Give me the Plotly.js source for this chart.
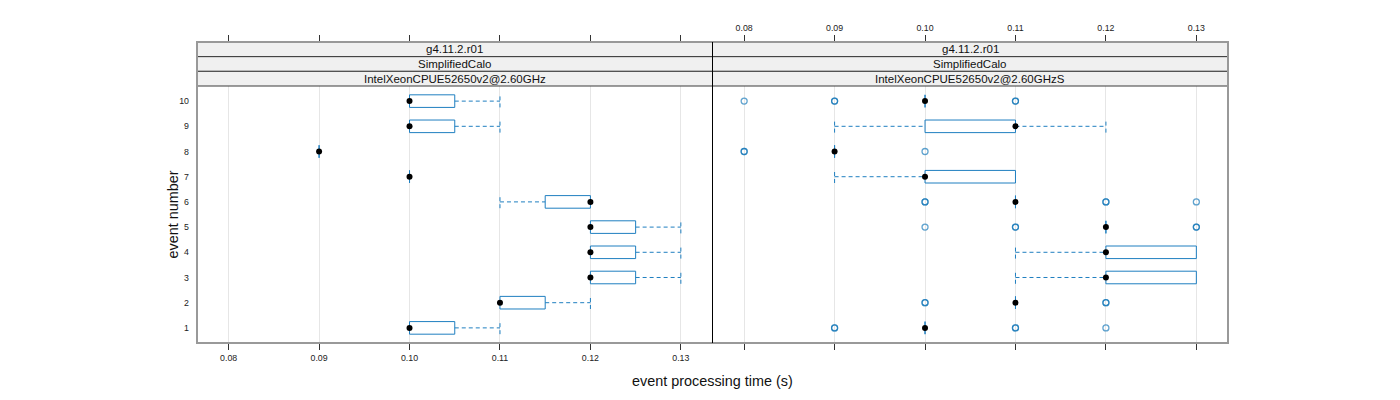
<!DOCTYPE html>
<html>
<head>
<meta charset="utf-8">
<script src="https://cdn.plot.ly/plotly-3.0.1.min.js"></script>
<style>html,body{margin:0;padding:0;background:#fff;}#chart{width:1400px;height:400px;}</style>
</head>
<body>
<div id="chart"></div>
<script>
// ---- data ----
const events = [1, 2, 3, 4, 5, 6, 7, 8, 9, 10];
const xTicks = [0.08, 0.09, 0.10, 0.11, 0.12, 0.13];
const stripRelease = "g4.11.2.r01";
const stripTest = "SimplifiedCalo";
const leftCpu = "IntelXeonCPUE52650v2@2.60GHz";
const rightCpu = "IntelXeonCPUE52650v2@2.60GHzS";

// left panel (per event 1..10)
const leftLo  = [0.10, 0.11, 0.12, 0.12, 0.12, 0.11, 0.10, 0.09, 0.10, 0.10];
const leftQ1  = [0.10, 0.11, 0.12, 0.12, 0.12, 0.115, 0.10, 0.09, 0.10, 0.10];
const leftMed = [0.10, 0.11, 0.12, 0.12, 0.12, 0.12, 0.10, 0.09, 0.10, 0.10];
const leftQ3  = [0.105, 0.115, 0.125, 0.125, 0.125, 0.12, 0.10, 0.09, 0.105, 0.105];
const leftHi  = [0.11, 0.12, 0.13, 0.13, 0.13, 0.12, 0.10, 0.09, 0.11, 0.11];
const leftOut = [[], [], [], [], [], [], [], [], [], []];

// right panel (per event 1..10)
const rightLo  = [0.10, 0.11, 0.11, 0.11, 0.12, 0.11, 0.09, 0.09, 0.09, 0.10];
const rightQ1  = [0.10, 0.11, 0.12, 0.12, 0.12, 0.11, 0.10, 0.09, 0.10, 0.10];
const rightMed = [0.10, 0.11, 0.12, 0.12, 0.12, 0.11, 0.10, 0.09, 0.11, 0.10];
const rightQ3  = [0.10, 0.11, 0.13, 0.13, 0.12, 0.11, 0.11, 0.09, 0.11, 0.10];
const rightHi  = [0.10, 0.11, 0.13, 0.13, 0.12, 0.11, 0.11, 0.09, 0.12, 0.10];
const rightOut = [
  [0.09, 0.09, 0.11, 0.11, 0.12],
  [0.10, 0.10, 0.12, 0.12],
  [],
  [],
  [0.10, 0.11, 0.11, 0.13, 0.13],
  [0.10, 0.10, 0.12, 0.12, 0.13],
  [],
  [0.08, 0.08, 0.10],
  [],
  [0.08, 0.09, 0.09, 0.11, 0.11]
];

// ---- style ----
const boxCol = "#1f7fc0";
const outCol = "#0b72b5";
const half = 0.25;
const FAM = "Liberation Sans, Arial, sans-serif";

function panelTraces(lo, q1, med, q3, hi, outs, xa) {
  const bx = [], by = [], wx = [], wy = [], ox = [], oy = [];
  events.forEach((e, i) => {
    bx.push(q1[i], q3[i], q3[i], q1[i], q1[i], null);
    by.push(e - half, e - half, e + half, e + half, e - half, null);
    if (lo[i] < q1[i]) {
      wx.push(lo[i], q1[i], null, lo[i], lo[i], null);
      wy.push(e, e, null, e - half, e + half, null);
    }
    if (hi[i] > q3[i]) {
      wx.push(q3[i], hi[i], null, hi[i], hi[i], null);
      wy.push(e, e, null, e - half, e + half, null);
    }
    outs[i].forEach(v => { ox.push(v); oy.push(e); });
  });
  const common = {xaxis: xa, yaxis: "y", showlegend: false, hoverinfo: "skip", type: "scatter"};
  return [
    Object.assign({}, common, {x: wx, y: wy, mode: "lines", line: {color: boxCol, width: 1, dash: "4px,3px"}, connectgaps: false}),
    Object.assign({}, common, {x: bx, y: by, mode: "lines", line: {color: boxCol, width: 1}, connectgaps: false}),
    Object.assign({}, common, {x: ox, y: oy, mode: "markers", marker: {symbol: "circle-open", size: 6, color: outCol, opacity: 0.65, line: {width: 1.3, color: outCol}}}),
    Object.assign({}, common, {x: med, y: events, mode: "markers", marker: {symbol: "circle", size: 6, color: "#000"}})
  ];
}

const traces = []
  .concat(panelTraces(leftLo, leftQ1, leftMed, leftQ3, leftHi, leftOut, "x"))
  .concat(panelTraces(rightLo, rightQ1, rightMed, rightQ3, rightHi, rightOut, "x2"));
traces.push({x: [null], y: [null], xaxis: "x3", yaxis: "y", showlegend: false, hoverinfo: "skip", type: "scatter", mode: "markers"});

const xr = [0.0765, 0.1335];
const tickText = xTicks.map(v => v.toFixed(2));
const font = {family: FAM, size: 8.8, color: "#222"};

const baseX = {
  range: xr, tickvals: xTicks, ticktext: tickText, ticks: "outside", ticklen: 6, tickcolor: "#333", tickwidth: 1,
  showgrid: true, gridcolor: "#e6e6e6", gridwidth: 1, zeroline: false, showline: false, tickfont: font, fixedrange: true
};

const H = 301;
const yb = [1, (343 - 56.67) / H, (343 - 71.33) / H, (343 - 86) / H];
const shapes = [];
const annotations = [];
const stripTexts = [[stripRelease, stripTest, leftCpu], [stripRelease, stripTest, rightCpu]];
[[0, 0.5], [0.5, 1]].forEach((d, p) => {
  for (let r = 0; r < 3; r++) {
    shapes.push({type: "rect", xref: "paper", yref: "paper", x0: d[0], x1: d[1], y0: yb[r + 1], y1: yb[r],
      fillcolor: "#f0f0f0", line: {color: "#3a3a3a", width: 1}, layer: "above"});
    annotations.push({xref: "paper", yref: "paper", x: (d[0] + d[1]) / 2, y: (yb[r] + yb[r + 1]) / 2,
      text: stripTexts[p][r], showarrow: false, xanchor: "center", yanchor: "middle",
      font: {family: FAM, size: 11.5, color: "#111"}});
  }
});
shapes.push({type: "rect", xref: "paper", yref: "paper", x0: 0, x1: 1, y0: 0, y1: 1, line: {color: "#999", width: 2}, layer: "above"});
shapes.push({type: "line", xref: "paper", yref: "paper", x0: 0.5, x1: 0.5, y0: 0, y1: 1, line: {color: "#000", width: 1}, layer: "above"});

annotations.push({xref: "paper", yref: "paper", x: 0.5, y: (343 - 381) / H, text: "event processing time (s)",
  showarrow: false, xanchor: "center", yanchor: "middle", font: {family: FAM, size: 14.4, color: "#111"}});
annotations.push({xref: "paper", yref: "paper", x: (172 - 197) / 1031, y: (343 - 214.5) / H, text: "event number", textangle: -90,
  showarrow: false, xanchor: "center", yanchor: "middle", font: {family: FAM, size: 14.4, color: "#111"}});

const layout = {
  width: 1400, height: 400,
  margin: {l: 197, r: 172, t: 42, b: 57, pad: 0},
  paper_bgcolor: "#fff", plot_bgcolor: "#fff",
  showlegend: false,
  xaxis: Object.assign({}, baseX, {domain: [0, 0.5], anchor: "y", mirror: "ticks"}),
  xaxis2: Object.assign({}, baseX, {domain: [0.5, 1], anchor: "y", showticklabels: false}),
  xaxis3: Object.assign({}, baseX, {overlaying: "x2", anchor: "y", side: "top", showgrid: false, showticklabels: true}),
  yaxis: {domain: [0, 1], range: [0.4, 0.4 + 301 / 25.196], tickvals: events, ticktext: events.map(String), ticks: "",
    showgrid: false, zeroline: false, showline: false, tickfont: font, ticklabelstandoff: 7, fixedrange: true},
  shapes: shapes,
  annotations: annotations
};

Plotly.newPlot("chart", traces, layout, {staticPlot: true, displayModeBar: false});
</script>
</body>
</html>
